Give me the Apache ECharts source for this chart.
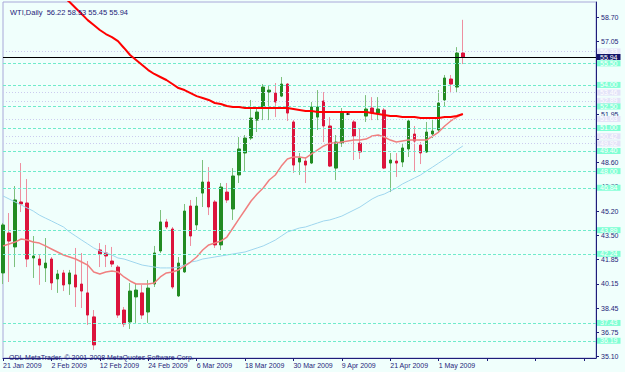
<!DOCTYPE html>
<html><head><meta charset="utf-8">
<script src="https://cdn.jsdelivr.net/npm/echarts@6/dist/echarts.min.js"></script>
<style>html,body{margin:0;padding:0;background:#F0FFFC;}#c{width:625px;height:372px;}</style>
</head><body><div id="c"></div>
<script>
const dates = ['21 Jan 2009','22 Jan 2009','23 Jan 2009','26 Jan 2009','27 Jan 2009','28 Jan 2009','29 Jan 2009','30 Jan 2009',
'2 Feb 2009','3 Feb 2009','4 Feb 2009','5 Feb 2009','6 Feb 2009','9 Feb 2009','10 Feb 2009','11 Feb 2009','12 Feb 2009','13 Feb 2009','16 Feb 2009','17 Feb 2009','18 Feb 2009','19 Feb 2009','20 Feb 2009','23 Feb 2009','24 Feb 2009','25 Feb 2009','26 Feb 2009','27 Feb 2009',
'2 Mar 2009','3 Mar 2009','4 Mar 2009','5 Mar 2009','6 Mar 2009','9 Mar 2009','10 Mar 2009','11 Mar 2009','12 Mar 2009','13 Mar 2009','16 Mar 2009','17 Mar 2009','18 Mar 2009','19 Mar 2009','20 Mar 2009','23 Mar 2009','24 Mar 2009','25 Mar 2009','26 Mar 2009','27 Mar 2009','30 Mar 2009','31 Mar 2009',
'1 Apr 2009','2 Apr 2009','3 Apr 2009','6 Apr 2009','7 Apr 2009','8 Apr 2009','9 Apr 2009','10 Apr 2009','13 Apr 2009','14 Apr 2009','15 Apr 2009','16 Apr 2009','17 Apr 2009','20 Apr 2009','21 Apr 2009','22 Apr 2009','23 Apr 2009','24 Apr 2009','27 Apr 2009','28 Apr 2009','29 Apr 2009','30 Apr 2009',
'1 May 2009','4 May 2009','5 May 2009','6 May 2009','7 May 2009'];
const futureSlots = 22;

const opens = [40.91,43.69,42.72,45.85,45.78,41.95,41.88,41.26,41.88,40.49,
40.91,40.14,40.77,40.14,39.52,37.85,42.51,42.30,41.74,41.32,
38.33,37.50,39.24,39.52,38.19,40.14,42.44,44.46,43.97,39.31,
40.98,45.57,44.25,46.47,47.24,45.85,42.86,46.54,45.36,47.73,
49.26,50.30,51.55,52.46,53.50,53.43,53.22,54.06,51.42,48.63,
48.70,48.56,51.76,52.88,51.14,48.21,49.95,51.97,51.42,49.95,
51.83,52.39,52.04,52.25,48.56,48.70,48.63,49.54,50.58,49.81,
49.33,50.58,50.86,52.95,54.41,53.85,56.22];
const closes = [44.25,43.13,45.99,45.71,41.88,42.09,41.46,41.60,40.21,40.84,
40.07,40.91,39.93,39.65,37.98,35.90,42.23,42.09,41.53,37.98,
37.36,39.65,39.72,37.98,39.86,42.30,44.46,44.11,39.93,41.60,
45.22,43.48,45.57,47.24,45.50,42.86,46.89,45.99,47.66,49.54,
50.30,51.69,52.11,53.85,53.64,52.81,54.06,52.04,48.42,48.91,
48.42,52.46,52.46,51.14,48.35,50.02,52.04,51.97,50.44,49.33,
52.32,52.04,52.32,48.21,48.77,48.56,49.61,51.49,50.09,49.26,
50.72,50.79,52.74,54.48,54.06,56.22,55.94];
const lows = [40.14,40.28,41.32,45.15,41.32,40.56,40.08,40.28,39.72,39.52,
39.65,39.38,38.54,38.47,37.29,35.55,41.32,41.32,41.32,37.78,
37.15,37.01,37.43,37.71,37.43,39.93,42.30,43.97,39.79,39.24,
40.91,42.79,43.90,45.50,44.94,42.65,42.51,45.78,44.60,47.17,
47.94,50.16,50.72,51.55,51.55,51.76,53.15,51.49,47.87,47.73,
47.17,48.49,50.86,50.02,48.28,47.38,49.68,51.90,48.77,48.84,
51.42,51.55,51.55,48.14,46.54,47.59,48.28,48.98,47.94,48.49,
49.26,50.30,50.72,52.46,53.43,53.50,55.45];
const highs = [44.39,45.08,46.96,48.56,47.45,43.48,42.23,43.34,42.02,41.12,
41.12,41.12,42.65,42.30,41.74,38.33,42.99,42.86,42.72,41.46,
38.54,40.21,40.21,40.07,40.42,42.79,45.29,44.67,44.11,42.02,
45.71,45.99,46.20,48.77,48.28,45.99,47.17,47.17,48.21,50.37,
50.51,52.95,52.39,54.06,53.99,54.13,54.55,54.13,51.55,49.26,
48.98,52.81,53.64,53.50,51.76,50.51,52.39,52.04,51.55,51.00,
53.29,53.15,53.15,52.39,49.26,49.26,49.95,51.55,51.14,50.02,
51.42,51.69,53.64,54.69,54.69,56.63,58.53];

const maFast = [42.79,42.93,43.06,43.27,43.20,43.06,42.99,42.79,42.58,42.37,
42.16,42.02,41.88,41.67,41.46,40.98,40.84,40.98,41.05,40.98,
40.63,40.35,40.14,40.14,40.14,40.21,40.63,40.91,40.98,41.12,
41.39,41.67,42.02,42.51,42.86,42.99,43.13,43.41,44.04,44.67,
45.29,45.92,46.40,46.82,47.38,47.73,48.35,48.84,48.98,48.98,
48.91,49.19,49.47,49.75,49.95,49.95,50.02,50.09,50.16,50.16,
50.23,50.44,50.51,50.37,50.16,50.02,50.09,50.16,50.16,50.16,
50.16,50.44,50.72,51.14,51.49,51.76,51.97];
const maMid = [46.27,46.06,45.85,45.64,45.43,45.22,44.94,44.73,44.53,44.32,
44.11,43.76,43.48,43.20,42.93,42.65,42.44,42.30,42.16,41.95,
41.88,41.74,41.60,41.46,41.39,41.32,41.26,41.26,41.26,41.32,
41.46,41.67,41.74,41.88,41.95,42.02,42.09,42.16,42.23,42.30,
42.37,42.51,42.65,42.79,42.99,43.20,43.48,43.76,43.90,44.04,
44.11,44.25,44.39,44.53,44.60,44.73,44.87,45.08,45.29,45.50,
45.78,46.06,46.27,46.40,46.61,46.82,47.10,47.31,47.52,47.73,
48.01,48.28,48.56,48.84,49.12,49.47,49.75];
const maSlow = [64.29,63.87,63.45,63.04,62.62,62.20,61.78,61.37,60.95,60.53,
60.11,59.77,59.35,58.93,58.51,58.17,57.82,57.54,57.33,57.05,
56.57,56.08,55.73,55.38,55.03,54.76,54.55,54.34,54.06,53.78,
53.64,53.43,53.22,53.09,52.95,52.74,52.67,52.53,52.46,52.46,
52.39,52.39,52.39,52.39,52.39,52.39,52.39,52.39,52.32,52.25,
52.18,52.18,52.11,52.11,52.11,52.11,52.11,52.11,52.11,52.11,
52.11,52.04,51.97,51.90,51.83,51.83,51.76,51.76,51.76,51.69,
51.69,51.69,51.69,51.76,51.76,51.83,51.97];

const yTickLabels = ['35.10','36.75','38.45','40.15','41.85','43.50','45.20','46.90','48.60','50.25','51.95','53.65','55.35','57.05','58.70'];
const yTickLabelsCovered = ['50.25','53.65','55.35'];
const aquaLevels = [55.50,54.00,52.50,51.00,49.40,48.00,46.84,43.89,42.24,37.43,36.19];
const lavenderLevels = [56.33,53.46,52.89,51.63,50.42,49.92];
const bidLevel = 55.94;
const titleText = 'WTI,Daily  56.22 58.53 55.45 55.94';
const copyrightText = 'ODL MetaTrader, \u00a9 2001-2008 MetaQuotes Software Corp.';

const FONT = 'Liberation Sans';
const NAVY = '#1e1e7a';
const BG = '#F0FFFC';
const categories = dates.concat(new Array(futureSlots).fill(''));
const yTicks = yTickLabels.map(Number);
const yLabelValues = yTickLabels.filter(l => !yTickLabelsCovered.includes(l)).map(Number);
const wickData = dates.map((d, i) => [opens[i], closes[i], lows[i], highs[i]]);
const bodyData = dates.map((d, i) => [opens[i], closes[i], Math.min(opens[i], closes[i]), Math.max(opens[i], closes[i])]);

function level(v, lineColor, type, bg, txt) {
  return {
    yAxis: v,
    lineStyle: { color: lineColor, type: type, width: 1 },
    label: { show: true, position: 'end', distance: 1, formatter: v.toFixed(2),
      backgroundColor: bg, color: txt, fontSize: 7, lineHeight: 6, fontFamily: FONT, padding: [0, 3, 0, 3] }
  };
}
const levelData = []
  .concat(lavenderLevels.map(v => level(v, '#CBCBEF', [1, 2], '#E3E3F8', '#ffffff')))
  .concat(aquaLevels.map(v => level(v, '#6FEBCB', [3, 2], '#7FFFD4', '#ffffff')))
  .concat([level(bidLevel, '#000000', 'solid', '#14146a', '#ffffff')]);

const chart = echarts.init(document.getElementById('c'), null, { renderer: 'svg' });
chart.setOption({
  backgroundColor: BG,
  animation: false,
  title: [
    { text: titleText, left: 5, top: 3, textStyle: { color: NAVY, fontSize: 7.5, fontWeight: 'normal', fontFamily: FONT } },
    { text: copyrightText, left: 4, top: 349, textStyle: { color: NAVY, fontSize: 7, fontWeight: 'normal', fontFamily: FONT } }
  ],
  grid: { left: 3, right: 29, top: 2, bottom: 14, show: true, borderColor: '#A8A8D8', borderWidth: 1, backgroundColor: 'transparent' },
  xAxis: {
    type: 'category', data: categories, boundaryGap: false,
    axisLine: { lineStyle: { color: NAVY, width: 1 } },
    axisTick: { show: true, interval: 7, length: 3, lineStyle: { color: NAVY } },
    axisLabel: { interval: 7, align: 'left', margin: 4, color: NAVY, fontSize: 7, fontFamily: FONT },
    splitLine: { show: false }
  },
  yAxis: {
    type: 'value', position: 'right', min: 34.99, max: 59.77,
    axisLine: { show: true, lineStyle: { color: NAVY, width: 1 } },
    axisTick: { show: true, length: 3, customValues: yTicks, lineStyle: { color: NAVY } },
    axisLabel: { customValues: yLabelValues, formatter: v => v.toFixed(2), margin: 5, color: NAVY, fontSize: 7, lineHeight: 6, fontFamily: FONT },
    splitLine: { show: false }
  },
  series: [
    {
      name: 'wicks', type: 'candlestick', data: wickData, barWidth: 1, z: 2,
      itemStyle: { color: '#7DC07D', color0: '#EE8FA0', borderColor: '#7DC07D', borderColor0: '#EE8FA0', borderWidth: 1, borderColorDoji: '#333333' },
      markLine: { silent: true, symbol: ['none', 'none'], animation: false, data: levelData }
    },
    {
      name: 'bodies', type: 'candlestick', data: bodyData, barWidth: 3, z: 3,
      itemStyle: { color: '#228B22', color0: '#DC143C', borderColor: '#228B22', borderColor0: '#DC143C', borderWidth: 1, borderColorDoji: '#222222' }
    },
    { name: 'maMid', type: 'line', data: maMid, symbol: 'none', z: 4, lineStyle: { color: '#9FD6EE', width: 1 } },
    { name: 'maFast', type: 'line', data: maFast, symbol: 'none', z: 4, lineStyle: { color: '#F08080', width: 1.5 } },
    { name: 'maSlow', type: 'line', data: maSlow, symbol: 'none', z: 5, lineStyle: { color: '#FF0000', width: 2 } }
  ]
});
</script></body></html>
